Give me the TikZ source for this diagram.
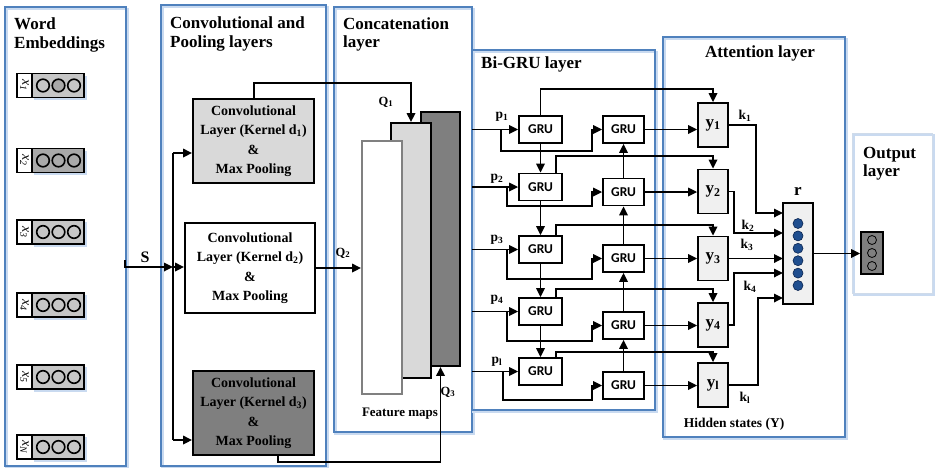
\documentclass[tikz,border=0pt]{standalone}
\usepackage{fontspec}
\setmainfont{Liberation Serif}
\newfontfamily\grufont{Carlito}
\usetikzlibrary{arrows.meta}
\definecolor{pblue}{HTML}{4F81BD}
\definecolor{pshad}{HTML}{C9DAF0}
\definecolor{oborder}{HTML}{CFDBEA}
\definecolor{emA}{HTML}{C6C6C6}
\definecolor{emB}{HTML}{A9A9A9}
\definecolor{fmlight}{HTML}{D9D9D9}
\definecolor{fmdark}{HTML}{7F7F7F}
\definecolor{ybox}{HTML}{F0F0F0}
\definecolor{dotblue}{HTML}{1F4E8F}
\definecolor{dotedge}{HTML}{0B2550}
\begin{document}
\begin{tikzpicture}[x=1pt, y=-1pt,
  panel/.style={draw=pblue, line width=1.6pt},
  pshadow/.style={draw=pshad, line width=2.2pt},
  conn/.style={line width=1.7pt},
  arr/.style={conn, -{Triangle[length=9pt,width=8.5pt]}},
  title/.style={font=\bfseries\fontsize{17}{19}\selectfont, inner sep=0, anchor=base west},
  lab/.style={font=\bfseries\fontsize{13.5}{15}\selectfont, inner sep=0},
  xbox/.style={draw, line width=1.2pt, fill=white, minimum width=15pt, minimum height=24pt, inner sep=0},
  ebox/.style={draw, line width=1.2pt, minimum width=52pt, minimum height=24pt, inner sep=0},
  cbox/.style={draw, line width=1.9pt, align=center, inner sep=0, font=\bfseries\fontsize{14}{19.5}\selectfont},
  fm/.style={draw, line width=1.9pt, inner sep=0},
  gru/.style={draw, line width=1.8pt, fill=white, minimum width=43pt, minimum height=27pt, inner sep=0, font=\grufont\bfseries\fontsize{13.5}{14}\selectfont},
  ynode/.style={draw, line width=1.8pt, fill=ybox, minimum width=30pt, minimum height=44pt, inner sep=0, font=\bfseries\fontsize{17}{17}\selectfont},
  emcirc/.style={draw, line width=1.6pt}
]
\useasboundingbox (0,0) rectangle (940,467);

% ---------- panels ----------
\draw[pshadow] (6.5,9) rectangle (127.5,468);
\draw[panel] (5,7) rectangle (126,466);
\draw[pshadow] (162.5,7) rectangle (327.5,468);
\draw[panel] (161,5) rectangle (326,466);
\draw[pshadow] (335.5,9) rectangle (473.5,434);
\draw[panel] (334,7) rectangle (472,432);
\draw[pshadow] (473.5,52) rectangle (656.5,412);
\draw[panel] (472,50) rectangle (655,410);
\draw[pshadow] (664.5,39) rectangle (846.5,439);
\draw[panel] (663,37) rectangle (845,437);
\draw[draw=pshad, line width=2pt] (853.5,135) rectangle (933.5,295);
\draw[draw=oborder, line width=1pt] (852,133) rectangle (932,293);

% ---------- titles ----------
\node[title] (t1a) at (14,29) {Word};
\node[title] (t1b) at (14,48) {Embeddings};
\node[title] (t2a) at (170,28) {Convolutional and};
\node[title] (t2b) at (170,47) {Pooling layers};
\node[title] (t3a) at (343,29) {Concatenation};
\node[title] (t3b) at (343,47) {layer};
\node[title] (t4) at (481,68) {Bi-GRU layer};
\node[title, anchor=base] (t5) at (760,57) {Attention layer};
\node[title] (t6a) at (863,158) {Output};
\node[title] (t6b) at (863,176) {layer};

% ---------- word embeddings ----------
\foreach \i/\yy/\lab/\col/\mid in {1/85.5/1/emA/emB, 2/160.5/2/emB/emB, 3/232/3/emA/emA, 4/305/4/emA/emA, 5/377/5/emA/emA, 6/447/N/emA/emA}{
  \fill[pshad] (34,{\yy-10}) rectangle (86.5,{\yy+14.5});
  \node[xbox] (x\i) at (24.5,\yy) {\rotatebox{-90}{\fontsize{14}{14}\selectfont\itshape x\textsubscript{\lab}}};
  \node[ebox, fill=\col] (e\i) at (58,\yy) {};
  \draw[emcirc, fill=\col] (43,\yy) circle[radius=6.3pt];
  \draw[emcirc, fill=\mid] (58.5,\yy) circle[radius=6.3pt];
  \draw[emcirc, fill=\col] (74,\yy) circle[radius=6.3pt];
}

% ---------- conv layers ----------
\node[cbox, fill=fmlight, minimum width=121pt, minimum height=84pt] (c1) at (253.5,141)
  {Convolutional\\Layer (Kernel d\textsubscript{1})\\\&\\Max Pooling};
\node[cbox, fill=white, minimum width=130pt, minimum height=90pt] (c2) at (250,268)
  {Convolutional\\Layer (Kernel d\textsubscript{2})\\\&\\Max Pooling};
\node[cbox, fill=fmdark, minimum width=121pt, minimum height=84pt] (c3) at (253.5,413)
  {Convolutional\\Layer (Kernel d\textsubscript{3})\\\&\\Max Pooling};

\coordinate (sbeg) at (125,260);
\coordinate (bus1) at (173,153);
\coordinate (bus2) at (173,267);
\coordinate (bus3) at (173,440);
\node[lab, font=\bfseries\fontsize{16}{16}\selectfont] (slab) at (145,257) {S};
\draw[arr] (sbeg) |- (bus2);
\draw[conn] (bus1) -- (bus3);
\draw[arr] (bus1) -- (bus1 -| c1.west);
\draw[arr] (bus2) -- (bus2 -| c2.west);
\draw[arr] (bus3) -- (bus3 -| c3.west);

% ---------- feature maps ----------
\node[fm, fill=fmdark, minimum width=39pt, minimum height=254pt] (fm3) at (440.5,239) {};
\node[fm, fill=fmlight, minimum width=40pt, minimum height=255pt] (fm2) at (411,250.5) {};
\node[fm, fill=white, draw=gray, minimum width=40pt, minimum height=253pt] (fm1) at (382,267.5) {};
\node[lab, font=\bfseries\fontsize{13}{14}\selectfont] (fmlab) at (400,414) {Feature maps};

\draw[arr] ([xshift=0.5pt]c1.north) -- ++(0,-15) -| (fm2.north);
\draw[arr] (c2.east) -- (c2.east -| fm1.west);
\draw[arr] ([xshift=24.5pt]c3.south) -- ++(0,6) -| (fm3.south);
\node[lab, font=\bfseries\fontsize{12.5}{14}\selectfont] (q1) at (386,102) {Q\textsubscript{1}};
\node[lab, font=\bfseries\fontsize{12.5}{14}\selectfont] (q2) at (343,253) {Q\textsubscript{2}};
\node[lab, font=\bfseries\fontsize{12.5}{14}\selectfont] (q3) at (448,392) {Q\textsubscript{3}};

% ---------- Bi-GRU ----------
\foreach \i/\ly/\ry in {1/129.5/129.5, 2/187/192, 3/249.5/258.5, 4/311.5/325.5, 5/371.5/385.5}{
  \node[gru] (L\i) at (540.5,\ly) {GRU};
  \node[gru, minimum width=41pt] (R\i) at (623.5,\ry) {GRU};
}
\foreach \i/\ly/\ry/\bx/\by in {1/129.5/129.5/501/151, 2/187/192/507/206, 3/249.5/258.5/507/279, 4/311.5/325.5/507/341, 5/371.5/385.5/503/400}{
  \coordinate (in\i) at (472,\ly);
  \coordinate (br\i) at (\bx,\ly);
  \draw[arr] (in\i) -- (L\i.west);
  \draw[arr] (br\i) -- (\bx,\by) -- (592,\by) -- (592,\ry) -- (R\i.west);
}
\foreach \i/\j in {1/2,2/3,3/4,4/5}{
  \draw[arr] (L\i.south) -- (L\j.north);
  \draw[arr] (R\j.north) -- (R\i.south);
}
\node[lab] (p1) at (502,117) {p\textsubscript{1}};
\node[lab] (p2) at (497,179) {p\textsubscript{2}};
\node[lab] (p3) at (497,240) {p\textsubscript{3}};
\node[lab] (p4) at (497,300) {p\textsubscript{4}};
\node[lab] (p5) at (497,362) {p\textsubscript{l}};

% ---------- attention ----------
\foreach \i/\yy/\lab in {1/125/1, 2/191.5/2, 3/258.5/3, 4/325/4, 5/385/l}{
  \node[ynode] (Y\i) at (713,\yy) {y\textsubscript{\lab}};
}
\foreach \i/\uy in {2/156, 3/225, 4/289, 5/352}{
  \coordinate (u\i) at (713,\uy);
  \draw[arr] ([xshift=15.5pt]L\i.north) |- (u\i) -- (Y\i.north);
}
\coordinate (u1) at (713,89);
\draw[arr] (L1.north) |- (u1) -- (Y1.north);
\foreach \i in {1,...,5}{
  \draw[arr] (R\i.east) -- (R\i.east -| Y\i.west);
}

\node[draw, line width=1.8pt, fill=ybox, minimum width=30pt, minimum height=101pt, inner sep=0] (r) at (798,253.5) {};
\node[lab, font=\bfseries\fontsize{17}{17}\selectfont] (rlab) at (798,191) {r};
\foreach \k in {0,...,5}{
  \draw[fill=dotblue, draw=dotedge, line width=0.6pt] (798,{223.5+12.4*\k}) circle[radius=5pt];
}
\coordinate (rin1) at (783,213);
\coordinate (rin2) at (783,233);
\coordinate (rin3) at (783,258.5);
\coordinate (rin4) at (783,273);
\coordinate (rin5) at (783,298);
\draw[arr] (Y1.east) -| (756,213) -- (rin1);
\draw[arr] (Y2.east) -| (734,233) -- (rin2);
\draw[arr] (Y3.east) -- (rin3);
\draw[arr] (Y4.east) -| (734,273) -- (rin4);
\draw[arr] (Y5.east) -| (758,298) -- (rin5);
\node[lab] (k1) at (745,116) {k\textsubscript{1}};
\node[lab] (k2) at (748,226) {k\textsubscript{2}};
\node[lab] (k3) at (747,245) {k\textsubscript{3}};
\node[lab] (k4) at (750,287) {k\textsubscript{4}};
\node[lab] (k5) at (745,398) {k\textsubscript{l}};
\node[lab] (hid) at (734,424) {Hidden states (Y)};

% ---------- output ----------
\node[draw, line width=1.8pt, fill=fmdark, minimum width=22pt, minimum height=42pt, inner sep=0] (out) at (872,253) {};
\foreach \yy in {240,253,266}{
  \draw[line width=0.8pt, fill=fmdark] (872,\yy) circle[radius=4.5pt];
}
\draw[arr] (r.east) -- (r.east -| out.west);
\end{tikzpicture}
\end{document}
